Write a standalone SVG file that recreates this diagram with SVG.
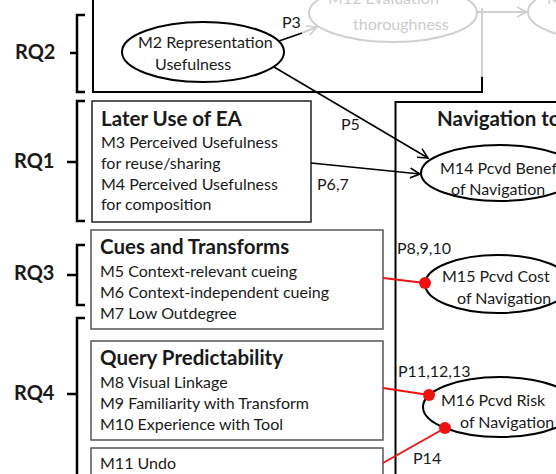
<svg xmlns="http://www.w3.org/2000/svg" width="556" height="474" viewBox="0 0 556 474">
<defs>
<style>
text{font-family:Lato,"Liberation Sans",sans-serif;fill:#1a1a1a;font-size:16px}
.t{font-weight:bold;font-size:20.5px}
.rq{font-weight:bold;font-size:20px}
.g{fill:#cccccc}
.br{fill:none;stroke:#000;stroke-width:2.5}
.box{fill:#fff;stroke:#555;stroke-width:1.5}
.ell{fill:#fff;stroke:#000;stroke-width:2}
.gell{fill:none;stroke:#d0d0d0;stroke-width:2}
.blk{stroke:#000;stroke-width:1.6;fill:none}
.gl{stroke:#d0d0d0;stroke-width:2;fill:none}
.red{stroke:#ee1111;stroke-width:1.8;fill:none}
.dot{fill:#ee1111}
</style>
<marker id="ah" markerWidth="12" markerHeight="12" refX="10" refY="5" orient="auto" markerUnits="userSpaceOnUse" viewBox="0 0 12 10">
<path d="M0,0 L10,5 L0,10" fill="none" stroke="#000" stroke-width="1.6"/>
</marker>
<marker id="gah" markerWidth="12" markerHeight="12" refX="10" refY="5" orient="auto" markerUnits="userSpaceOnUse" viewBox="0 0 12 10">
<path d="M0,0 L10,5 L0,10" fill="none" stroke="#d0d0d0" stroke-width="1.6"/>
</marker>
</defs>
<rect width="556" height="474" fill="#fff"/>

<g id="brackets">
<text class="rq" x="15" y="59">RQ2</text>
<path class="br" d="M85,15 H77 V92 H85 M70,53 H77"/>
<text class="rq" x="14" y="168">RQ1</text>
<path class="br" d="M85,101 H77 V221 H85 M67,162 H77"/>
<text class="rq" x="14" y="280">RQ3</text>
<path class="br" d="M85,245 H77 V305 H85 M67,275 H77"/>
<text class="rq" x="14" y="400">RQ4</text>
<path class="br" d="M85,318 H77 V480 M67,394 H77"/>
</g>

<g id="rq2-frame">
<path d="M93,0 V92 H482 V77" fill="none" stroke="#000" stroke-width="2"/>
</g>

<g id="m12">
<ellipse class="gell" cx="393" cy="13" rx="84" ry="29"/>
<text class="g" x="328" y="4">M12 Evaluation</text>
<text class="g" x="353" y="30">thoroughness</text>
</g>
<g id="m13">
<ellipse class="gell" cx="612" cy="12" rx="84" ry="29"/>
<text class="g" x="547" y="4">M13</text>
</g>

<g id="m2">
<ellipse class="ell" cx="203" cy="52" rx="81" ry="30"/>
<text x="138" y="48">M2 Representation</text>
<text x="155" y="70">Usefulness</text>
</g>

<g id="later-use">
<rect x="92" y="101" width="219" height="121" fill="#fff" stroke="#222" stroke-width="1.5"/>
<text class="t" x="101" y="126">Later Use of EA</text>
<text x="101" y="148">M3 Perceived Usefulness</text>
<text x="101" y="169">for reuse/sharing</text>
<text x="101" y="190">M4 Perceived Usefulness</text>
<text x="101" y="210">for composition</text>
</g>

<g id="cues">
<rect class="box" x="91" y="230" width="292" height="99"/>
<text class="t" x="100" y="254">Cues and Transforms</text>
<text x="100" y="277">M5 Context-relevant cueing</text>
<text x="100" y="298">M6 Context-independent cueing</text>
<text x="100" y="319">M7 Low Outdegree</text>
</g>

<g id="query">
<rect class="box" x="91" y="341" width="292" height="99"/>
<text class="t" x="100" y="365">Query Predictability</text>
<text x="100" y="388">M8 Visual Linkage</text>
<text x="100" y="409">M9 Familiarity with Transform</text>
<text x="100" y="430">M10 Experience with Tool</text>
</g>

<g id="m11">
<rect class="box" x="91" y="448" width="292" height="40"/>
<text x="100" y="469">M11 Undo</text>
</g>

<g id="navigation">
<rect x="395.5" y="102" width="300" height="400" fill="none" stroke="#000" stroke-width="2"/>
<text class="t" x="437" y="126">Navigation to</text>
</g>

<g id="m14">
<ellipse class="ell" cx="500" cy="173" rx="79" ry="28"/>
<text x="440" y="174">M14 Pcvd Benefit</text>
<text x="451" y="195">of Navigation</text>
</g>
<g id="m15">
<ellipse class="ell" cx="498" cy="284" rx="73" ry="29"/>
<text x="442" y="282">M15 Pcvd Cost</text>
<text x="457" y="304">of Navigation</text>
</g>
<g id="m16">
<ellipse class="ell" cx="500" cy="407" rx="77" ry="30"/>
<text x="441" y="406">M16 Pcvd Risk</text>
<text x="460" y="428">of Navigation</text>
</g>

<g id="connectors">
<line class="blk" x1="279" y1="41" x2="302" y2="33"/>
<line class="gl" x1="302" y1="33" x2="317" y2="27" marker-end="url(#gah)"/>
<path class="gl" d="M477,12 H527" marker-end="url(#gah)"/>
<path class="gl" d="M482,8 V77"/>
<line class="blk" x1="274" y1="67" x2="428" y2="158" marker-end="url(#ah)"/>
<line class="blk" x1="311" y1="163" x2="420" y2="174" marker-end="url(#ah)"/>
<line class="red" x1="383" y1="278" x2="425" y2="283"/>
<circle class="dot" cx="425" cy="283" r="6"/>
<line class="red" x1="383" y1="388" x2="429" y2="395"/>
<circle class="dot" cx="429" cy="395" r="6"/>
<line class="red" x1="383" y1="463" x2="445" y2="428"/>
<circle class="dot" cx="445" cy="428" r="6"/>
<text x="282" y="28">P3</text>
<text x="341" y="130">P5</text>
<text x="317" y="190">P6,7</text>
<text x="397" y="254">P8,9,10</text>
<text x="398" y="377">P11,12,13</text>
<text x="413" y="464">P14</text>
</g>
</svg>
